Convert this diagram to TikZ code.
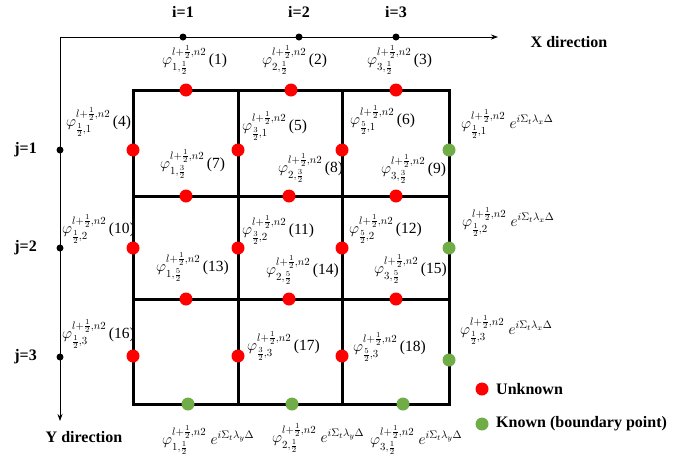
\documentclass[tikz,border=0pt]{standalone}
\usepackage{fix-cm}
\usepackage{amsmath,amssymb}
\usepackage{fontspec}
\setmainfont{Liberation Serif}
\usepackage{tikz}
\usetikzlibrary{arrows.meta,positioning}
\definecolor{dotred}{HTML}{FF0000}
\definecolor{dotgreen}{HTML}{70AD47}
\newcommand{\phis}[2]{\varphi^{l+\frac{1}{2},n2}_{#1,#2}}

\begin{document}
\begin{tikzpicture}[x=1pt,y=-1pt,>={Stealth[length=7pt,width=5pt]}]

\tikzset{
u/.style={circle,fill=dotred,inner sep=0pt,minimum size=13pt},
k/.style={circle,fill=dotgreen,inner sep=0pt,minimum size=13pt},
ax/.style={circle,fill=black,inner sep=0pt,minimum size=7pt},
lab/.style={anchor=west,inner sep=0pt,font=\fontsize{15.5}{18}\selectfont},
hd/.style={font=\fontsize{16}{18}\selectfont\bfseries},
g/.style={line width=3pt}
}

\useasboundingbox (0,0) rectangle (699,464);

% axes
\coordinate (O) at (60,37);
\coordinate (xend) at (498,37);
\coordinate (yend) at (60,421);
\draw[<->,line width=0.8pt] (xend) -- (O) -- (yend);

\node[ax] (i1) at (183,37) {};
\node[ax] (i2) at (299,37) {};
\node[ax] (i3) at (396,37) {};
\node[ax] (j1) at (60,150) {};
\node[ax] (j2) at (60,248) {};
\node[ax] (j3) at (60,357) {};

\node[hd,above=12pt of i1] (ti1) {i=1};
\node[hd,above=12pt of i2] (ti2) {i=2};
\node[hd,above=12pt of i3] (ti3) {i=3};
\node[hd,left=16pt of j1] (tj1) {j=1};
\node[hd,left=16pt of j2] (tj2) {j=2};
\node[hd,left=16pt of j3] (tj3) {j=3};

\node[hd] (xdir) at (569,42) {X direction};
\node[hd] (ydir) at (84,437) {Y direction};

% grid
\draw[g] (133,90) rectangle (449,404);
\draw[g] (238,90) -- (238,404);
\draw[g] (342,90) -- (342,404);
\draw[g] (133,196) -- (449,196);
\draw[g] (133,299) -- (449,299);

% unknown points
\node[u] (u1) at (186,90) {};
\node[u] (u2) at (291,90) {};
\node[u] (u3) at (396,90) {};
\node[u] (u4) at (133,150) {};
\node[u] (u5) at (238,150) {};
\node[u] (u6) at (342,150) {};
\node[u] (u7) at (186,196) {};
\node[u] (u8) at (289,196) {};
\node[u] (u9) at (396,196) {};
\node[u] (u10) at (133,248) {};
\node[u] (u11) at (238,248) {};
\node[u] (u12) at (342,248) {};
\node[u] (u13) at (186,299) {};
\node[u] (u14) at (289,299) {};
\node[u] (u15) at (396,299) {};
\node[u] (u16) at (133,356) {};
\node[u] (u17) at (238,356) {};
\node[u] (u18) at (342,356) {};

% boundary points
\node[k] (k1) at (449,150) {};
\node[k] (k2) at (449,248) {};
\node[k] (k3) at (449,360) {};
\node[k] (k4) at (188,404) {};
\node[k] (k5) at (292,404) {};
\node[k] (k6) at (403,404) {};

% labels
\node[lab] (l1) at (162,60) {$\phis{1}{\frac12}$\,(1)};
\node[lab] (l2) at (262,60) {$\phis{2}{\frac12}$\,(2)};
\node[lab] (l3) at (367,60) {$\phis{3}{\frac12}$\,(3)};
\node[lab] (l4) at (66,122) {$\phis{\frac12}{1}$\,(4)};
\node[lab] (l5) at (242,126) {$\phis{\frac32}{1}$\,(5)};
\node[lab] (l6) at (350,120) {$\phis{\frac52}{1}$\,(6)};
\node[lab] (l7) at (160,164) {$\phis{1}{\frac32}$\,(7)};
\node[lab] (l8) at (278,168) {$\phis{2}{\frac32}$\,(8)};
\node[lab] (l9) at (381,169) {$\phis{3}{\frac32}$\,(9)};
\node[lab] (l10) at (62,229) {$\phis{\frac12}{2}$\,(10)};
\node[lab] (l11) at (242,230) {$\phis{\frac32}{2}$\,(11)};
\node[lab] (l12) at (349,229) {$\phis{\frac52}{2}$\,(12)};
\node[lab] (l13) at (156,267) {$\phis{1}{\frac52}$\,(13)};
\node[lab] (l14) at (266,270) {$\phis{2}{\frac52}$\,(14)};
\node[lab] (l15) at (374,269) {$\phis{3}{\frac52}$\,(15)};
\node[lab] (l16) at (62,334) {$\phis{\frac12}{3}$\,(16)};
\node[lab] (l17) at (247,346) {$\phis{\frac32}{3}$\,(17)};
\node[lab] (l18) at (353,347) {$\phis{\frac52}{3}$\,(18)};

\node[lab] (lk1) at (461,124) {$\phis{\frac12}{1}\;e^{i\Sigma_t\lambda_x\Delta}$};
\node[lab] (lk2) at (462,222) {$\phis{\frac12}{2}\;e^{i\Sigma_t\lambda_x\Delta}$};
\node[lab] (lk3) at (460,330) {$\phis{\frac12}{3}\;e^{i\Sigma_t\lambda_x\Delta}$};
\node[lab] (lk4) at (162,440) {$\phis{1}{\frac12}\;e^{i\Sigma_t\lambda_y\Delta}$};
\node[lab] (lk5) at (272,438) {$\phis{2}{\frac12}\;e^{i\Sigma_t\lambda_y\Delta}$};
\node[lab] (lk6) at (370,440) {$\phis{3}{\frac12}\;e^{i\Sigma_t\lambda_y\Delta}$};

% legend
\node[u] (lu) at (482,389) {};
\node[hd,right=4pt of lu] (tu) {Unknown};
\node[k] (lkn) at (482,424) {};
\node[hd,right=4pt of lkn] (tk) {Known (boundary point)};

\end{tikzpicture}
\end{document}
